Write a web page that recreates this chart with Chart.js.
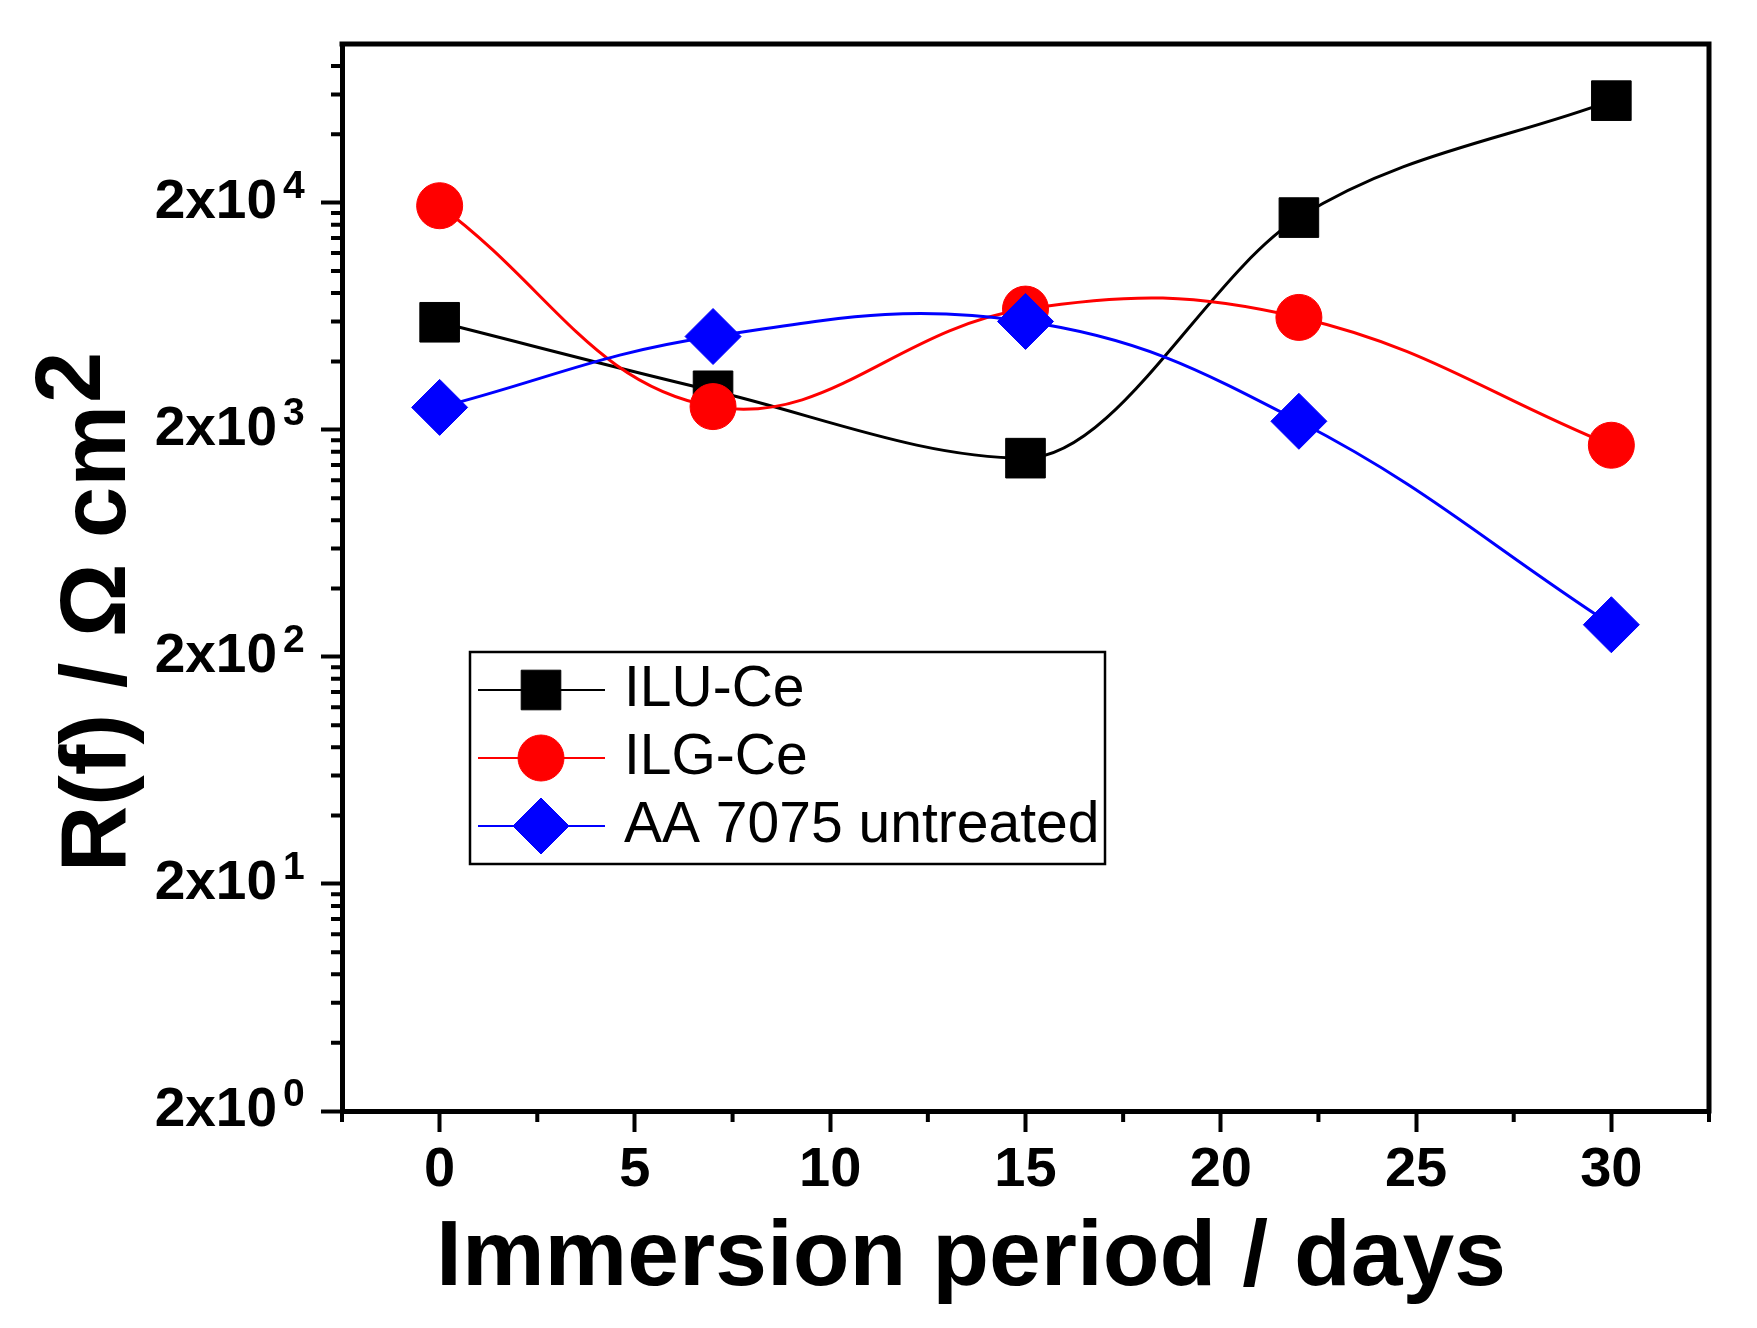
<!DOCTYPE html>
<html>
<head>
<meta charset="utf-8">
<script src="https://cdn.jsdelivr.net/npm/chart.js@4.4.0/dist/chart.umd.min.js"></script>
<style>
  html, body { margin: 0; padding: 0; background: #fff; }
  #chart { display: block; }
</style>
</head>
<body>
<canvas id="chart" width="1757" height="1328"></canvas>
<script>
// values (R(f) in ohm cm2 against immersion days)
const days = [0, 7, 15, 22, 30];
const iluCe = [5950, 2970, 1500, 17200, 56300];
const ilgCe = [19400, 2530, 6800, 6250, 1710];
const aa7075 = [2510, 5150, 6000, 2180, 277];
const seriesNames = ['ILU-Ce', 'ILG-Ce', 'AA 7075 untreated'];

// ticks
const xMajor = [0, 5, 10, 15, 20, 25, 30];
const xMinor = [-2.5, 2.5, 7.5, 12.5, 17.5, 22.5, 27.5, 32.5];
const yMajor = [2, 20, 200, 2000, 20000];
const yPowers = ['0', '1', '2', '3', '4'];
const yMinorSteps = [4, 6, 8, 10, 12, 14, 16, 18];

const FONT = '"Liberation Sans", Arial, sans-serif';
const X_MIN = -2.5, X_MAX = 32.5, Y_MIN = 2, Y_MAX = 100000;

const yMinor = [];
yMajor.forEach(v => {
    yMinorSteps.forEach(k => {
        const m = k * v / 2;
        if (m < Y_MAX) yMinor.push(m);
    });
});

function points(values) {
    return days.map((d, i) => ({ x: d, y: values[i] }));
}

// marker fallback if helpers are not exposed
function marker(ctx, style, r, x, y) {
    if (Chart.helpers && Chart.helpers.drawPoint) {
        Chart.helpers.drawPoint(ctx, { pointStyle: style, radius: r, rotation: 0, borderWidth: 1 }, x, y);
        return;
    }
    ctx.beginPath();
    if (style === 'circle') {
        ctx.arc(x, y, r, 0, Math.PI * 2);
    } else if (style === 'rect') {
        const h = r * Math.SQRT1_2;
        ctx.rect(x - h, y - h, 2 * h, 2 * h);
    } else {
        ctx.moveTo(x, y - r); ctx.lineTo(x + r, y); ctx.lineTo(x, y + r); ctx.lineTo(x - r, y);
        ctx.closePath();
    }
    ctx.fill();
    ctx.stroke();
}

const decorations = {
    id: 'decorations',
    afterDraw(chart) {
        const { ctx, chartArea: a, scales: { x, y } } = chart;
        ctx.save();

        // top and right frame
        ctx.strokeStyle = '#000';
        ctx.lineWidth = 5;
        ctx.lineCap = 'square';
        ctx.beginPath();
        ctx.moveTo(a.left, a.top);
        ctx.lineTo(a.right, a.top);
        ctx.lineTo(a.right, a.bottom);
        ctx.stroke();

        // minor ticks
        ctx.lineWidth = 4;
        ctx.lineCap = 'butt';
        ctx.beginPath();
        xMinor.forEach(v => {
            const px = x.getPixelForValue(v);
            ctx.moveTo(px, a.bottom);
            ctx.lineTo(px, a.bottom + 11);
        });
        yMinor.forEach(v => {
            const py = y.getPixelForValue(v);
            ctx.moveTo(a.left, py);
            ctx.lineTo(a.left - 11, py);
        });
        ctx.stroke();

        // exponents of y tick labels
        ctx.fillStyle = '#000';
        ctx.font = 'bold 39px ' + FONT;
        ctx.textAlign = 'left';
        ctx.textBaseline = 'alphabetic';
        yMajor.forEach((v, i) => {
            ctx.fillText(yPowers[i], a.left - 59, y.getPixelForValue(v) - 5);
        });

        // x title
        ctx.font = 'bold 93px ' + FONT;
        ctx.textAlign = 'center';
        ctx.fillText('Immersion period / days', 971, 1285);

        // y title with raised 2
        ctx.font = 'bold 92px ' + FONT;
        ctx.save();
        ctx.translate(125, 612);
        ctx.rotate(-Math.PI / 2);
        ctx.textAlign = 'left';
        const main = 'R(f) / \u03A9 cm';
        const wMain = ctx.measureText(main).width;
        const wSup = ctx.measureText('2').width;
        const sx = -(wMain + wSup + 2) / 2;
        ctx.fillText(main, sx, 0);
        ctx.fillText('2', sx + wMain + 2, -25);
        ctx.restore();

        // legend
        const box = { left: 470, top: 652, right: 1105, bottom: 864 };
        ctx.lineWidth = 2.5;
        ctx.strokeStyle = '#000';
        ctx.strokeRect(box.left, box.top, box.right - box.left, box.bottom - box.top);
        ctx.font = '57px ' + FONT;
        chart.data.datasets.forEach((ds, i) => {
            const cy = 690 + i * 68;
            ctx.strokeStyle = ds.borderColor;
            ctx.fillStyle = ds.backgroundColor;
            ctx.lineWidth = 2;
            ctx.beginPath();
            ctx.moveTo(478, cy);
            ctx.lineTo(605, cy);
            ctx.stroke();
            ctx.lineWidth = 1;
            marker(ctx, ds.pointStyle, ds.pointRadius, 541, cy);
            ctx.fillStyle = '#000';
            ctx.textAlign = 'left';
            ctx.textBaseline = 'middle';
            ctx.fillText(ds.label, 624, cy);
        });

        ctx.restore();
    }
};

function series(label, values, color, style, radius, order, mode) {
    return {
        label: label,
        data: points(values),
        borderColor: color,
        backgroundColor: color,
        borderWidth: 3,
        tension: 0.4,
        cubicInterpolationMode: mode,
        pointStyle: style,
        pointRadius: radius,
        pointHoverRadius: radius,
        pointBorderWidth: 1,
        order: order
    };
}

new Chart(document.getElementById('chart'), {
    type: 'line',
    data: {
        datasets: [
            series(seriesNames[0], iluCe, '#000000', 'rect', 28, 2, 'monotone'),
            series(seriesNames[1], ilgCe, '#ff0000', 'circle', 23, 1, 'default'),
            series(seriesNames[2], aa7075, '#0000ff', 'rectRot', 28, 0, 'default')
        ]
    },
    options: {
        responsive: false,
        devicePixelRatio: 1,
        animation: false,
        layout: { padding: { top: 44, right: 48, left: 0, bottom: 0 } },
        plugins: {
            legend: { display: false },
            tooltip: { enabled: false }
        },
        scales: {
            x: {
                type: 'linear',
                min: X_MIN,
                max: X_MAX,
                afterBuildTicks: s => { s.ticks = xMajor.map(v => ({ value: v })); },
                afterFit: s => { s.height = 217; s.paddingLeft = 0; s.paddingRight = 0; },
                grid: { drawOnChartArea: false, drawTicks: true, tickLength: 21, tickWidth: 4, tickColor: '#000' },
                border: { display: true, width: 5, color: '#000' },
                ticks: {
                    autoSkip: false,
                    maxRotation: 0,
                    padding: 5,
                    color: '#000',
                    font: { family: FONT, size: 56, weight: 'bold' }
                }
            },
            y: {
                type: 'logarithmic',
                min: Y_MIN,
                max: Y_MAX,
                afterBuildTicks: s => { s.ticks = yMajor.map(v => ({ value: v })); },
                afterFit: s => { s.width = 342; s.paddingTop = 0; s.paddingBottom = 0; },
                grid: { drawOnChartArea: false, drawTicks: true, tickLength: 21, tickWidth: 4, tickColor: '#000' },
                border: { display: true, width: 5, color: '#000' },
                ticks: {
                    autoSkip: false,
                    padding: 44,
                    color: '#000',
                    font: { family: FONT, size: 55, weight: 'bold' },
                    callback: () => '2x10'
                }
            }
        }
    },
    plugins: [decorations]
});
</script>
</body>
</html>
